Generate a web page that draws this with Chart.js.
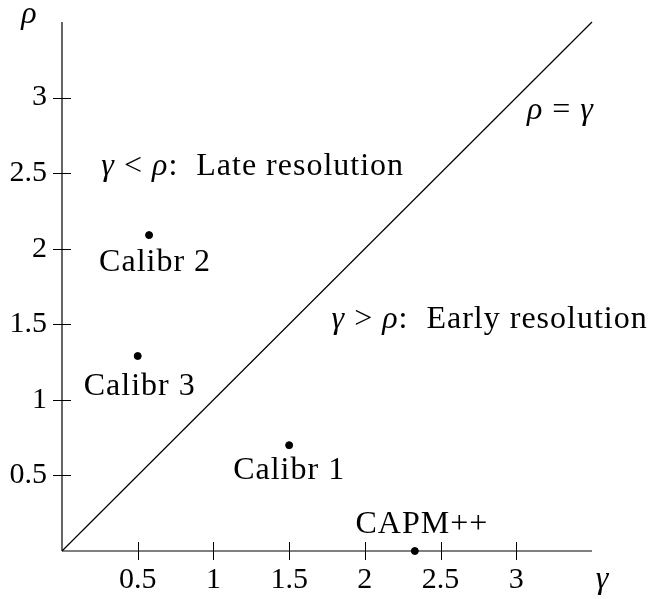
<!DOCTYPE html>
<html>
<head>
<meta charset="utf-8">
<script src="https://cdn.jsdelivr.net/npm/chart.js@4/dist/chart.umd.min.js"></script>
<style>
html, body { margin: 0; padding: 0; background: #fff; }
</style>
</head>
<body>
<canvas id="resChart" width="654" height="599"></canvas>
<script>
var pointNames = ['Calibr 1', 'Calibr 2', 'Calibr 3', 'CAPM++'];
var gammaValues = [1.5, 0.575, 0.5, 2.33];
var rhoValues = [0.7, 2.09, 1.29, 0];
var xTicks = [0.5, 1, 1.5, 2, 2.5, 3];
var yTicks = [0.5, 1, 1.5, 2, 2.5, 3];
var axisMax = 3.5;
var diagonal = [0, 3.5];

// where each point name sits, in pixels from its dot (baseline)
var labelOffset = [[0, 34], [6, 36], [2, 39], [7, -18]];

// region notes, anchored in data units (left edge, baseline)
var notes = [
    { x: 0.26, y: 2.49, parts: [['γ', true], [' < ', false], ['ρ', true], [':  Late resolution', false]] },
    { x: 1.78, y: 1.475, parts: [['γ', true], [' > ', false], ['ρ', true], [':  Early resolution', false]] },
    { x: 3.07, y: 2.86, parts: [['ρ', true], [' = ', false], ['γ', true]] }
];

var serif = '"Liberation Serif", serif';

var plotDecor = {
    id: 'plotDecor',
    afterDraw: function(chart) {
        var ctx = chart.ctx;
        var xs = chart.scales.x, ys = chart.scales.y;
        var x0 = xs.getPixelForValue(0), y0 = ys.getPixelForValue(0);
        ctx.save();
        ctx.strokeStyle = '#000';
        ctx.lineWidth = 1.2;
        ctx.beginPath();
        ctx.moveTo(x0, y0); ctx.lineTo(xs.getPixelForValue(axisMax), y0);
        ctx.moveTo(x0, y0); ctx.lineTo(x0, ys.getPixelForValue(axisMax));
        ctx.stroke();

        ctx.lineWidth = 1;
        xTicks.forEach(function(v) {
            var px = Math.round(xs.getPixelForValue(v)) + 0.5;
            ctx.beginPath(); ctx.moveTo(px, y0 - 9); ctx.lineTo(px, y0 + 9); ctx.stroke();
        });
        yTicks.forEach(function(v) {
            var py = Math.round(ys.getPixelForValue(v)) + 0.5;
            ctx.beginPath(); ctx.moveTo(x0 - 9, py); ctx.lineTo(x0 + 9, py); ctx.stroke();
        });

        ctx.fillStyle = '#000';
        ctx.textBaseline = 'alphabetic';
        ctx.letterSpacing = '1px';
        ctx.textAlign = 'center';
        ctx.font = '32px ' + serif;
        pointNames.forEach(function(name, i) {
            var off = labelOffset[i];
            ctx.fillText(name, xs.getPixelForValue(gammaValues[i]) + off[0], ys.getPixelForValue(rhoValues[i]) + off[1]);
        });

        ctx.textAlign = 'left';
        notes.forEach(function(n) {
            var px = xs.getPixelForValue(n.x), py = ys.getPixelForValue(n.y);
            n.parts.forEach(function(p) {
                ctx.font = (p[1] ? 'italic ' : '') + '32px ' + serif;
                ctx.fillText(p[0], px, py);
                px += ctx.measureText(p[0]).width;
            });
        });

        ctx.letterSpacing = '0px';
        ctx.textAlign = 'center';
        ctx.font = 'italic 32px ' + serif;
        ctx.fillText('ρ', xs.left - 33, ys.top + 1);
        ctx.fillText('γ', xs.right + 10, ys.bottom + 37);
        ctx.restore();
    }
};

var ctx = document.getElementById('resChart').getContext('2d');
var resChart = new Chart(ctx, {
    type: 'scatter',
    data: {
        datasets: [{
            type: 'line',
            data: diagonal.map(function(v) { return { x: v, y: v }; }),
            borderColor: '#000',
            borderWidth: 1.2,
            pointRadius: 0,
            clip: false
        }, {
            data: gammaValues.map(function(g, i) { return { x: g, y: rhoValues[i] }; }),
            backgroundColor: '#000',
            borderColor: '#000',
            pointRadius: 3.5,
            clip: false
        }]
    },
    options: {
        responsive: false,
        animation: false,
        layout: { padding: { top: 22, right: 62, bottom: 0, left: 0 } },
        plugins: {
            legend: { display: false },
            tooltip: { enabled: false }
        },
        scales: {
            x: {
                type: 'linear',
                min: 0,
                max: axisMax,
                afterBuildTicks: function(scale) {
                    scale.ticks = xTicks.map(function(v) { return { value: v }; });
                },
                afterFit: function(scale) {
                    scale.height = 48;
                    scale.paddingLeft = 0;
                    scale.paddingRight = 0;
                },
                grid: { display: false, drawTicks: false },
                border: { display: false },
                ticks: {
                    padding: 11,
                    color: '#000',
                    font: { family: serif, size: 30 },
                    callback: function(v) { return String(v); }
                }
            },
            y: {
                type: 'linear',
                min: 0,
                max: axisMax,
                afterBuildTicks: function(scale) {
                    scale.ticks = yTicks.map(function(v) { return { value: v }; });
                },
                afterFit: function(scale) {
                    scale.width = 62;
                    scale.paddingTop = 0;
                    scale.paddingBottom = 0;
                },
                grid: { display: false, drawTicks: false },
                border: { display: false },
                ticks: {
                    padding: 15,
                    color: '#000',
                    font: { family: serif, size: 30 },
                    callback: function(v) { return String(v); }
                }
            }
        }
    },
    plugins: [plotDecor]
});
</script>
</body>
</html>
